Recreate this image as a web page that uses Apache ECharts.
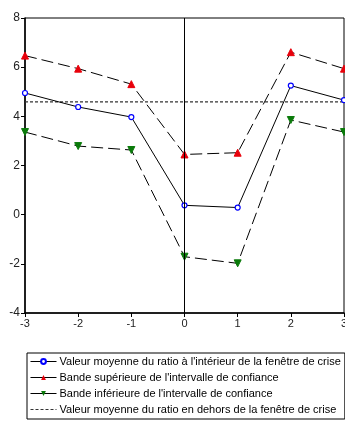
<!DOCTYPE html>
<html>
<head>
<meta charset="utf-8">
<script src="https://cdn.jsdelivr.net/npm/echarts@6/dist/echarts.min.js"></script>
<style>
  html, body { margin: 0; padding: 0; background: #fff; overflow: hidden; }
  #chart { width: 345px; height: 421px; }
</style>
</head>
<body>
<div id="chart"></div>
<script>
// fenetre de crise : t = -3 .. 3
var periodes = [-3, -2, -1, 0, 1, 2, 3];
var moyenneInt = [4.95, 4.38, 3.97, 0.38, 0.29, 5.25, 4.66];
var bandeSup = [6.47, 5.94, 5.31, 2.45, 2.52, 6.61, 5.94];
var bandeInf = [3.36, 2.79, 2.63, -1.71, -1.98, 3.85, 3.36];
var moyenneExt = 4.59;
var yTicks = [-4, 8, 2];

var noms = [
    'Valeur moyenne du ratio à l\'intérieur de la fenêtre de crise',
    'Bande supérieure de l\'intervalle de confiance',
    'Bande inférieure de l\'intervalle de confiance',
    'Valeur moyenne du ratio en dehors de la fenêtre de crise'
];

function paires(vals) {
    var res = [];
    for (var i = 0; i < periodes.length; i++) {
        res.push([periodes[i], vals[i]]);
    }
    return res;
}

var chart = echarts.init(document.getElementById('chart'));

var option = {
    animation: false,
    grid: {
        left: 25, right: 1, top: 18, bottom: 108,
        outerBoundsMode: 'none',
        containLabel: false,
        show: true, borderColor: '#000', borderWidth: 1
    },
    xAxis: {
        type: 'value',
        min: periodes[0], max: periodes[periodes.length - 1], interval: 1,
        axisLine: { show: true, onZero: false, lineStyle: { color: '#000', width: 1.5 } },
        axisTick: { show: true, length: 4, lineStyle: { color: '#000' } },
        axisLabel: { color: '#222', fontSize: 11, fontFamily: 'Liberation Sans', margin: 5 },
        splitLine: { show: false }
    },
    yAxis: {
        type: 'value',
        min: yTicks[0], max: yTicks[1], interval: yTicks[2],
        axisLine: { show: true, onZero: false, lineStyle: { color: '#000', width: 1.5 } },
        axisTick: { show: true, length: 4, lineStyle: { color: '#000' } },
        axisLabel: { color: '#222', fontSize: 12, fontFamily: 'Liberation Sans', margin: 5 },
        splitLine: { show: false }
    },
    legend: {
        orient: 'vertical',
        left: 27, top: 353,
        padding: [3, 4, 4, 3],
        borderColor: '#000', borderWidth: 1,
        itemWidth: 26, itemHeight: 6, itemGap: 5,
        textStyle: { fontSize: 11, fontFamily: 'Liberation Sans', color: '#000', padding: [0, 0, 0, -2] },
        data: [
            { name: noms[0], lineStyle: { type: 'solid', width: 1 } },
            { name: noms[1], lineStyle: { type: 'solid', width: 1 } },
            { name: noms[2], lineStyle: { type: 'solid', width: 1 } },
            { name: noms[3], lineStyle: { type: [3, 2], width: 1 }, itemStyle: { opacity: 0 } }
        ]
    },
    series: [
        {
            name: noms[0],
            type: 'line',
            data: paires(moyenneInt),
            symbol: 'circle', symbolSize: 5,
            lineStyle: { color: '#000', width: 1 },
            itemStyle: { color: '#fff', borderColor: '#0000ff', borderWidth: 1.2 },
            markLine: {
                silent: true, symbol: 'none',
                label: { show: false },
                lineStyle: { color: '#000', width: 1, type: 'solid' },
                data: [{ xAxis: 0 }]
            },
            z: 4
        },
        {
            name: noms[1],
            type: 'line',
            data: paires(bandeSup),
            symbol: 'triangle', symbolSize: 7,
            lineStyle: { color: '#000', width: 1, type: [12, 5] },
            itemStyle: { color: '#e8000b', borderColor: '#e8000b' },
            z: 3
        },
        {
            name: noms[2],
            type: 'line',
            data: paires(bandeInf),
            symbol: 'triangle', symbolSize: 7, symbolRotate: 180,
            lineStyle: { color: '#000', width: 1, type: [12, 5] },
            itemStyle: { color: '#0a7a0a', borderColor: '#0a7a0a' },
            z: 3
        },
        {
            name: noms[3],
            type: 'line',
            data: [[periodes[0], moyenneExt], [periodes[periodes.length - 1], moyenneExt]],
            symbol: 'none',
            lineStyle: { color: '#333', width: 1.2, type: [3, 2] },
            itemStyle: { color: '#333' },
            z: 2
        }
    ]
};

chart.setOption(option);
</script>
</body>
</html>
